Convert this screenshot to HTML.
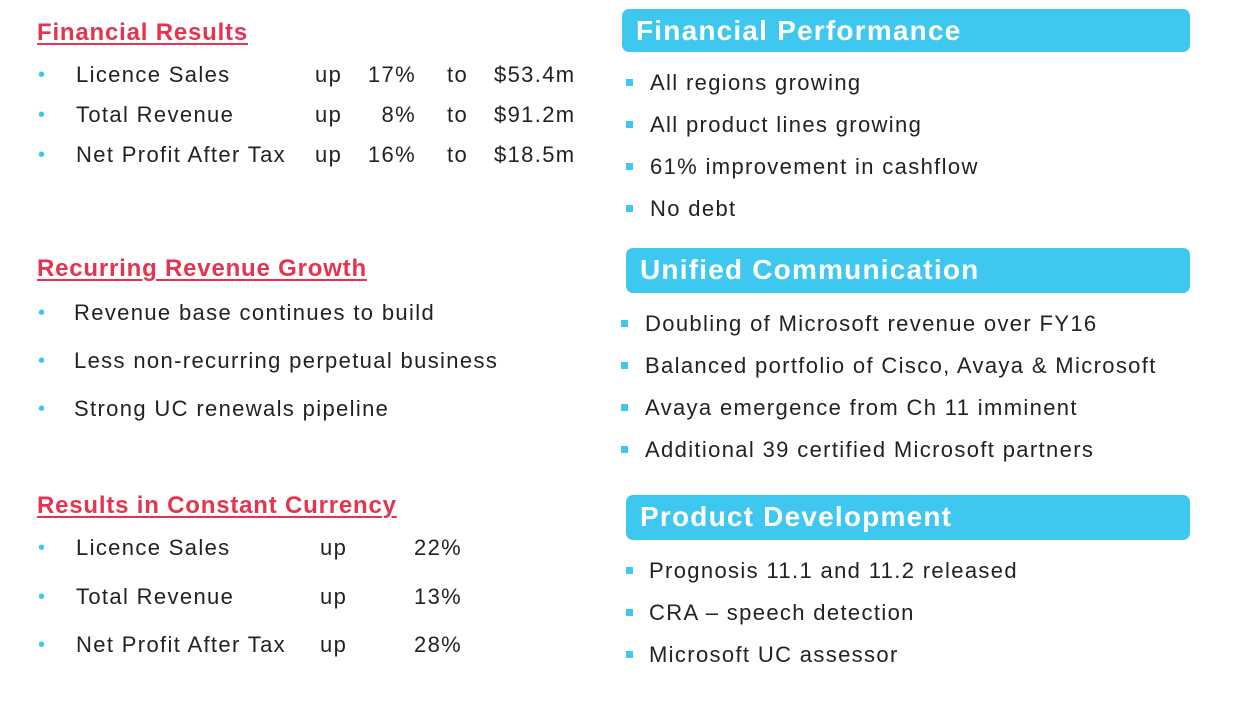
<!DOCTYPE html>
<html><head><meta charset="utf-8"><style>
body{margin:0;width:1239px;height:708px;background:#fff;position:relative;overflow:hidden;font-family:"Liberation Sans","DejaVu Sans",sans-serif;color:#222}
.a{position:absolute;white-space:nowrap;line-height:26px;font-size:22px;letter-spacing:1.35px}
.h{position:absolute;color:#e5344f;font-weight:bold;font-size:24px;letter-spacing:0.8px;text-decoration:underline;text-decoration-thickness:2px;text-underline-offset:3px;line-height:30px;white-space:nowrap}
.box{position:absolute;background:#3ec8ef;border-radius:7px;color:#fff;font-weight:bold;font-size:28px;letter-spacing:1.2px;line-height:44px;padding-left:14px;box-sizing:border-box;white-space:nowrap}
.d{position:absolute;color:#3ec8ef;font-size:20px;line-height:26px}
.s{position:absolute;width:7px;height:7px;background:#3ec8ef}
.r{text-align:right;width:60px}
</style></head><body>
<div class="h" style="left:37px;top:18px">Financial Results</div>
<div class="d" style="left:38px;top:62px">•</div><div class="a" style="left:76px;top:62px">Licence Sales</div>
<div class="a" style="left:315px;top:62px">up</div><div class="a r" style="left:356px;top:62px">17%</div><div class="a" style="left:447px;top:62px">to</div><div class="a" style="left:494px;top:62px">$53.4m</div>
<div class="d" style="left:38px;top:102px">•</div><div class="a" style="left:76px;top:102px">Total Revenue</div>
<div class="a" style="left:315px;top:102px">up</div><div class="a r" style="left:356px;top:102px">8%</div><div class="a" style="left:447px;top:102px">to</div><div class="a" style="left:494px;top:102px">$91.2m</div>
<div class="d" style="left:38px;top:142px">•</div><div class="a" style="left:76px;top:142px">Net Profit After Tax</div>
<div class="a" style="left:315px;top:142px">up</div><div class="a r" style="left:356px;top:142px">16%</div><div class="a" style="left:447px;top:142px">to</div><div class="a" style="left:494px;top:142px">$18.5m</div>

<div class="h" style="left:37px;top:254px">Recurring Revenue Growth</div>
<div class="d" style="left:38px;top:300px">•</div><div class="a" style="left:74px;top:300px">Revenue base continues to build</div>
<div class="d" style="left:38px;top:348px">•</div><div class="a" style="left:74px;top:348px">Less non-recurring perpetual business</div>
<div class="d" style="left:38px;top:396px">•</div><div class="a" style="left:74px;top:396px">Strong UC renewals pipeline</div>

<div class="h" style="left:37px;top:491px">Results in Constant Currency</div>
<div class="d" style="left:38px;top:535px">•</div><div class="a" style="left:76px;top:535px">Licence Sales</div><div class="a" style="left:320px;top:535px">up</div><div class="a" style="left:414px;top:535px">22%</div>
<div class="d" style="left:38px;top:584px">•</div><div class="a" style="left:76px;top:584px">Total Revenue</div><div class="a" style="left:320px;top:584px">up</div><div class="a" style="left:414px;top:584px">13%</div>
<div class="d" style="left:38px;top:632px">•</div><div class="a" style="left:76px;top:632px">Net Profit After Tax</div><div class="a" style="left:320px;top:632px">up</div><div class="a" style="left:414px;top:632px">28%</div>

<div class="box" style="left:622px;top:9px;width:568px;height:43px">Financial Performance</div>
<div class="s" style="left:626px;top:79px"></div><div class="a" style="left:650px;top:70px">All regions growing</div>
<div class="s" style="left:626px;top:121px"></div><div class="a" style="left:650px;top:112px">All product lines growing</div>
<div class="s" style="left:626px;top:163px"></div><div class="a" style="left:650px;top:154px">61% improvement in cashflow</div>
<div class="s" style="left:626px;top:205px"></div><div class="a" style="left:650px;top:196px">No debt</div>

<div class="box" style="left:626px;top:248px;width:564px;height:45px">Unified Communication</div>
<div class="s" style="left:621px;top:320px"></div><div class="a" style="left:645px;top:311px">Doubling of Microsoft revenue over FY16</div>
<div class="s" style="left:621px;top:362px"></div><div class="a" style="left:645px;top:353px">Balanced portfolio of Cisco, Avaya &amp; Microsoft</div>
<div class="s" style="left:621px;top:404px"></div><div class="a" style="left:645px;top:395px">Avaya emergence from Ch 11 imminent</div>
<div class="s" style="left:621px;top:446px"></div><div class="a" style="left:645px;top:437px">Additional 39 certified Microsoft partners</div>

<div class="box" style="left:626px;top:495px;width:564px;height:45px">Product Development</div>
<div class="s" style="left:626px;top:567px"></div><div class="a" style="left:649px;top:558px">Prognosis 11.1 and 11.2 released</div>
<div class="s" style="left:626px;top:609px"></div><div class="a" style="left:649px;top:600px">CRA – speech detection</div>
<div class="s" style="left:626px;top:651px"></div><div class="a" style="left:649px;top:642px">Microsoft UC assessor</div>
</body></html>
